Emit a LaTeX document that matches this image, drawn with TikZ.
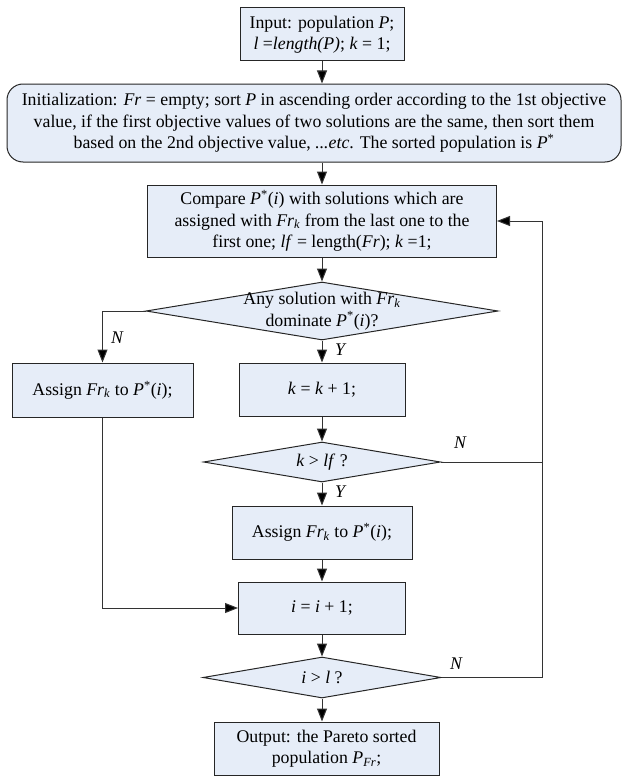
\documentclass[tikz,border=0pt]{standalone}
\usepackage{fontspec}
\setmainfont{Liberation Serif}
\usepackage{tikz}
\usetikzlibrary{arrows.meta,shapes.geometric}
\definecolor{boxfill}{RGB}{230,237,248}
\newcommand{\Frk}{\textit{Fr}\textsubscript{\textit{k}}}
\newcommand{\Pst}{\textit{P}\textsuperscript{*}}

\begin{document}
\begin{tikzpicture}[x=1pt, y=-1pt,
  every node/.style={font=\fontsize{17.8}{21.5}\selectfont},
  box/.style={draw=black!85, fill=boxfill, line width=1pt, align=center, inner sep=0pt},
  dec/.style={shape=diamond, draw=black!85, fill=boxfill, line width=1pt, inner sep=0pt},
  arr/.style={-{Triangle[length=13pt, width=10pt, fill=black]}, line width=1pt, black!80},
  yn/.style={font=\fontsize{17.8}{20}\selectfont\itshape}]
  \useasboundingbox (0,0) rectangle (628,776);

  % Boxes
  \node[box, minimum width=164pt, minimum height=53pt] (inp) at (322,34.5)
    {Input: population \textit{P};\\ \textit{l} =\textit{length(P)}; \textit{k} = 1;};
  \node[box, rounded corners=16pt, minimum width=614pt, minimum height=78pt] (init) at (314,123)
    {Initialization: \textit{Fr} = empty; sort \textit{P} in ascending order according to the 1st objective\\
     value, if the first objective values of two solutions are the same, then sort them\\
     based on the 2nd objective value, \textit{...etc}. The sorted population is \Pst};
  \node[box, minimum width=349pt, minimum height=72pt] (cmp) at (322,221)
    {Compare \Pst(\textit{i}) with solutions which are\\
     assigned with \Frk{} from the last one to the\\
     first one; \textit{lf} = length(\textit{Fr}); \textit{k} =1;};
  \node[dec, minimum width=352pt, minimum height=58pt,
    label={[name=d1t, align=center]center:Any solution with \Frk\\ dominate \Pst(\textit{i})?}] (d1) at (322,311) {};
  \node[box, minimum width=181pt, minimum height=54pt] (asg1) at (102.5,390)
    {Assign \Frk{} to \Pst(\textit{i});};
  \node[box, minimum width=166pt, minimum height=53pt] (kinc) at (322,389.5)
    {\textit{k} = \textit{k} + 1;};
  \node[dec, minimum width=237pt, minimum height=40pt,
    label={[name=d2t]center:\textit{k} > \textit{lf} ?}] (d2) at (322,462) {};
  \node[box, minimum width=180pt, minimum height=53pt] (asg2) at (322,532.5)
    {Assign \Frk{} to \Pst(\textit{i});};
  \node[box, minimum width=167pt, minimum height=52pt] (iinc) at (322,608)
    {\textit{i} = \textit{i} + 1;};
  \node[dec, minimum width=238pt, minimum height=41pt,
    label={[name=d3t]center:\textit{i} > \textit{l} ?}] (d3) at (322,677.5) {};
  \node[box, minimum width=225pt, minimum height=53pt] (out) at (326.5,748.5)
    {Output: the Pareto sorted\\ population \textit{P}\textsubscript{\textit{Fr}};};

  % Feedback line
  \coordinate (fb) at (542,221);

  % Connectors
  \draw[arr] (inp.south) -- (inp.south |- init.north);
  \draw[arr] (init.south -| cmp.north) -- (cmp.north);
  \draw[arr] (cmp.south) -- (d1.north);
  \draw[arr] (d1.west) -| (asg1.north);
  \draw[arr] (d1.south) -- (kinc.north);
  \draw[arr] (kinc.south) -- (d2.north);
  \draw[line width=1pt, black!80] (d2.east) -- (d2.east -| fb);
  \draw[arr] (d2.south) -- (asg2.north);
  \draw[arr] (asg2.south) -- (iinc.north);
  \draw[arr] (asg1.south) |- (iinc.west);
  \draw[arr] (iinc.south) -- (d3.north);
  \draw[arr] (d3.east) -- (d3.east -| fb) -- (fb) -- (cmp.east);
  \draw[arr] (d3.south) -- (d3.south |- out.north);

  % Y / N labels
  \node[yn] (n1) at (117,338) {N};
  \node[yn] (y1) at (340,350) {Y};
  \node[yn] (n2) at (460,443) {N};
  \node[yn] (y2) at (340,492) {Y};
  \node[yn] (n3) at (456,664) {N};
\end{tikzpicture}
\end{document}
